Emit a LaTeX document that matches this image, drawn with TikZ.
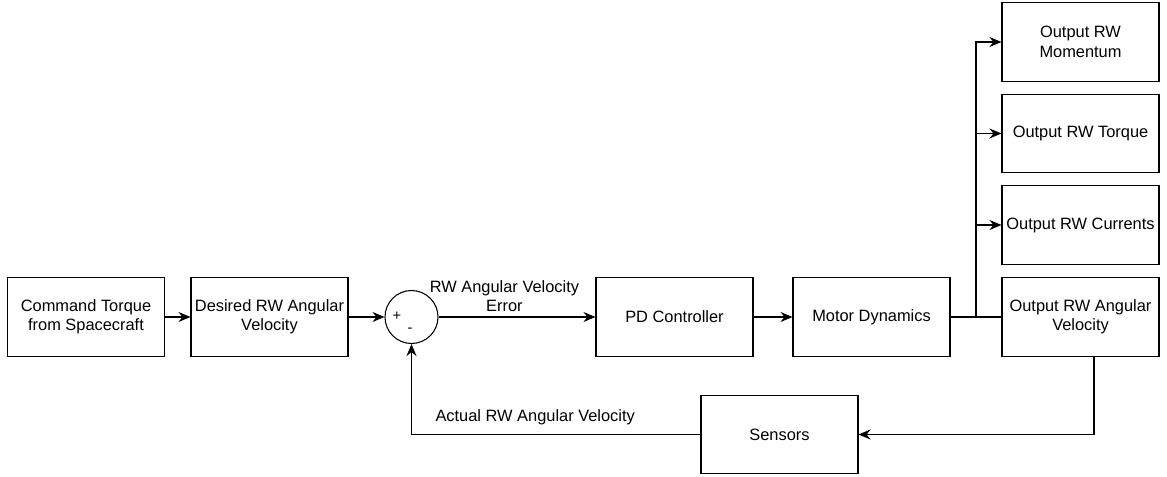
\documentclass[tikz,border=0pt]{standalone}
\usepackage{fontspec}
\setmainfont{Liberation Sans}
\usetikzlibrary{arrows.meta,positioning}
\tikzstyle{blk}=[draw, line width=0.8pt, minimum width=117.75pt, minimum height=59pt, align=center, inner sep=1pt]
\tikzstyle{sumnode}=[draw, circle, line width=0.8pt, minimum size=39.75pt, inner sep=0pt]
\tikzstyle{sig}=[line width=0.8pt, -{Stealth[length=9pt,width=7.5pt,inset=3pt]}]
\tikzstyle{wire}=[line width=0.8pt]

\begin{document}
\begin{tikzpicture}[x=0.75pt,y=-0.75pt,font=\fontsize{12.3}{14.5}\selectfont]
\useasboundingbox (0,0) rectangle (1167,477);
% forward path
\node[blk] (cmd) at (86,317) {Command Torque\\from Spacecraft};
\node[blk] (des) at (269.5,317) {Desired RW Angular\\Velocity};
\node[sumnode] (sum) at (411.5,317) {};
\node[font=\fontsize{11}{12}\selectfont] (plus) at (397,316) {+};
\node[font=\fontsize{11}{12}\selectfont] (minus) at (410,330) {-};
\node[blk] (pd) at (674.5,317) {PD Controller};
\node[blk] (motor) at (871.5,317) {Motor Dynamics};
% outputs
\node[blk] (outmom) at (1080.5,42) {Output RW\\Momentum};
\node[blk] (outtor) at (1080.5,133.5) {Output RW Torque};
\node[blk] (outcur) at (1080.5,225) {Output RW Currents};
\node[blk] (outang) at (1080.5,317) {Output RW Angular\\Velocity};
% feedback
\node[blk] (sens) at (779.5,434.5) {Sensors};
\coordinate (split) at (976,317);

\draw[sig] (cmd) -- (des);
\draw[sig] (des) -- (sum);
\draw[sig] (sum) -- node[pos=0.42, above, align=center, inner sep=3.5pt] (errlbl) {RW Angular Velocity\\Error} (pd);
\draw[sig] (pd) -- (motor);
\draw[wire] (motor) -- (outang);
\foreach \o in {outmom,outtor,outcur}
  \draw[sig] (split) |- (\o.west);
\draw[sig] ([xshift=10.1pt]outang.south) |- (sens.east);
\draw[sig] (sens.west) -| node[pos=0.286, above, inner sep=7pt] (actlbl) {Actual RW Angular Velocity} (sum.south);
\end{tikzpicture}
\end{document}
